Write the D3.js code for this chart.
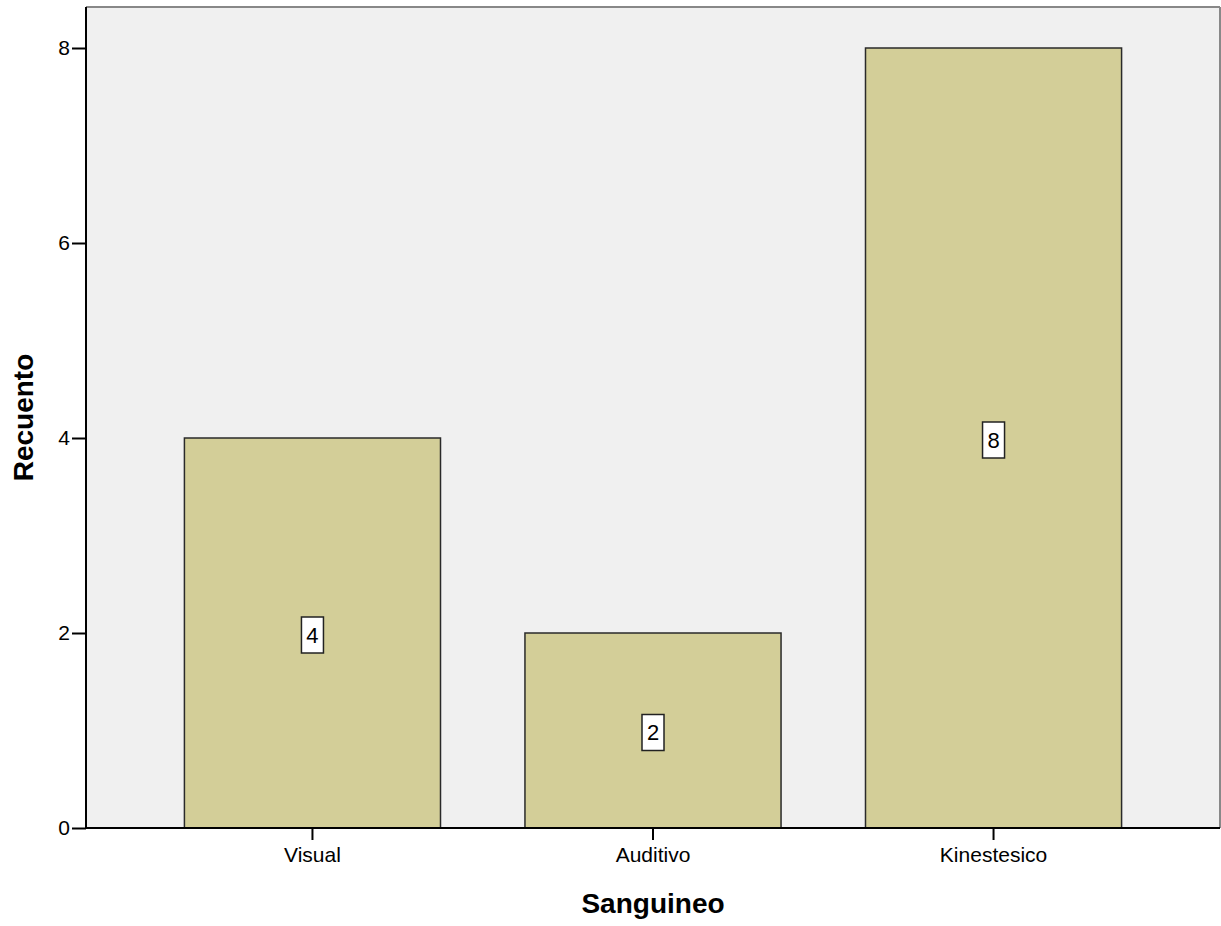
<!DOCTYPE html>
<html><head><meta charset="utf-8">
<script src="https://cdn.jsdelivr.net/npm/d3@7"></script>
<style>body{margin:0;background:#fff}svg{display:block}text{font-family:Arial,"Liberation Sans",sans-serif}</style>
</head><body><svg id="c" width="1221" height="926"></svg>
<script>
const categories = ["Visual", "Auditivo", "Kinestesico"];
const counts = [4, 2, 8];
const yTicks = [0, 2, 4, 6, 8];
const xTitle = "Sanguineo";
const yTitle = "Recuento";

const svg = d3.select("#c");
const L = 86, R = 1220, T = 7, B = 828;
const y = d3.scaleLinear().domain([0, 8]).range([B, 48]);
const x = d3.scaleBand().domain(categories).range([L, R]).paddingInner(0.248).paddingOuter(0.289);

svg.append("rect").attr("x", L).attr("y", T).attr("width", R - L).attr("height", B - T).attr("fill", "#f0f0f0");
svg.append("line").attr("x1", L).attr("x2", R).attr("y1", T).attr("y2", T).attr("stroke", "#888").attr("stroke-width", 2);
svg.append("line").attr("x1", R).attr("x2", R).attr("y1", T).attr("y2", B).attr("stroke", "#888").attr("stroke-width", 2);

svg.selectAll("rect.bar").data(counts).join("rect").attr("class", "bar")
  .attr("x", (d, i) => x(categories[i])).attr("width", x.bandwidth())
  .attr("y", d => y(d)).attr("height", d => B - y(d))
  .attr("fill", "#d3ce98").attr("stroke", "#2a2a2a").attr("stroke-width", 1.5);

const lab = svg.selectAll("g.lab").data(counts).join("g").attr("class", "lab")
  .attr("transform", (d, i) => `translate(${x(categories[i]) + x.bandwidth() / 2},${y(d / 2) + 2})`);
lab.append("rect").attr("x", -11).attr("y", -18).attr("width", 22).attr("height", 36)
  .attr("fill", "#fff").attr("stroke", "#222").attr("stroke-width", 1.5);
lab.append("text").attr("text-anchor", "middle").attr("dy", "0.36em").attr("font-size", 22).attr("fill", "#000").text(d => d);

const ya = svg.append("g").attr("transform", `translate(${L},0)`)
  .call(d3.axisLeft(y).tickValues(yTicks).tickSize(14).tickPadding(2));
ya.select(".domain").attr("d", `M0,${T}V${B}`).attr("stroke", "#000").attr("stroke-width", 2);
ya.selectAll(".tick line").attr("stroke", "#000").attr("stroke-width", 2);
ya.selectAll(".tick text").attr("font-size", 21).attr("fill", "#000").attr("font-family", "Arial, Liberation Sans, sans-serif");

const xa = svg.append("g").attr("transform", `translate(0,${B})`)
  .call(d3.axisBottom(x).tickSize(12).tickPadding(7));
xa.select(".domain").attr("d", `M${L},0H${R}`).attr("stroke", "#000").attr("stroke-width", 2);
xa.selectAll(".tick line").attr("stroke", "#000").attr("stroke-width", 2);
xa.selectAll(".tick text").attr("font-size", 21).attr("fill", "#000").attr("font-family", "Arial, Liberation Sans, sans-serif");

svg.append("text").attr("x", (L + R) / 2).attr("y", 913).attr("text-anchor", "middle")
  .attr("font-size", 28).attr("font-weight", "bold").text(xTitle);
svg.append("text").attr("transform", `translate(33,${(T + B) / 2}) rotate(-90)`).attr("text-anchor", "middle")
  .attr("font-size", 28).attr("font-weight", "bold").text(yTitle);
</script></body></html>
